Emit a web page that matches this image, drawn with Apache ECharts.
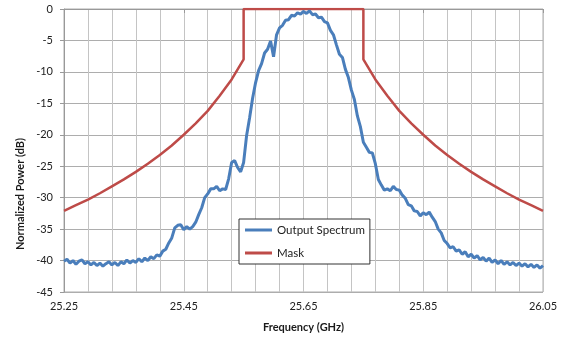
<!DOCTYPE html>
<html>
<head>
<meta charset="utf-8">
<script src="https://cdn.jsdelivr.net/npm/echarts@6/dist/echarts.min.js"></script>
<style>
  html, body { margin: 0; padding: 0; background: #fff; }
  #chart { width: 565px; height: 339px; }
</style>
</head>
<body>
<div id="chart"></div>
<script>
// Frequency span of the plot (GHz)
const freqMin = 25.25;
const freqMax = 26.05;
const gridStep = 0.04;   // vertical gridlines
const labelStep = 0.2;   // labelled frequencies

// Measured output spectrum, sampled every 5 MHz from 25.250 GHz (dB)
const specStep = 0.005;
const specPower = [
  -40.1, -39.8, -40.4, -40.0, -40.6, -40.1, -39.9, -40.5, -40.2, -40.7,
  -40.3, -40.8, -40.4, -40.9, -40.5, -40.2, -40.7, -40.3, -40.8, -40.2,
  -40.5, -39.9, -40.4, -40.0, -40.3, -39.7, -40.2, -39.6, -40.0, -39.4,
  -39.7, -39.1, -39.3, -38.5, -38.2, -37.2, -36.4, -34.8, -34.4, -34.3,
  -35.1, -34.6, -35.0, -34.6, -33.9, -32.7, -31.6, -30.0, -29.4, -28.6,
  -28.6, -28.2, -28.9, -28.6, -28.7, -27.0, -24.4, -24.1, -25.2, -25.9,
  -24.4, -20.1, -17.3, -14.2, -11.7, -9.8, -8.7, -7.0, -6.4, -5.1,
  -7.6, -4.1, -3.0, -2.6, -1.8, -1.7, -1.0, -1.1, -0.6, -0.8,
  -0.4, -0.7, -0.3, -0.9, -0.8, -1.4, -1.3, -2.0, -2.2, -3.4,
  -4.1, -5.7, -7.2, -7.7, -9.6, -10.9, -12.9, -14.4, -17.0, -18.7,
  -21.2, -22.0, -22.8, -22.9, -24.6, -27.1, -28.0, -28.8, -28.6, -28.9,
  -28.2, -28.7, -28.8, -29.6, -30.1, -31.1, -31.3, -32.1, -32.2, -32.9,
  -32.4, -32.7, -32.3, -33.1, -33.8, -35.0, -35.6, -36.8, -37.3, -38.0,
  -37.8, -38.5, -38.3, -39.0, -38.6, -39.4, -39.0, -39.6, -39.2, -39.9,
  -39.5, -40.1, -39.6, -40.3, -39.9, -40.5, -40.0, -40.6, -40.2, -40.7,
  -40.3, -40.8, -40.4, -40.9, -40.5, -41.0, -40.6, -41.1, -40.7, -41.2,
  -40.8
];

// Spectral mask corner points
const maskFreq = [
  25.25, 25.27, 25.29, 25.31, 25.33, 25.35, 25.37, 25.39, 25.41, 25.43,
  25.45, 25.47, 25.49, 25.51, 25.53, 25.55, 25.55, 25.75, 25.75, 25.77,
  25.79, 25.81, 25.83, 25.85, 25.87, 25.89, 25.91, 25.93, 25.95, 25.97,
  25.99, 26.01, 26.03, 26.05
];
const maskPower = [
  -32.1, -31.2, -30.3, -29.3, -28.2, -27.1, -25.9, -24.6, -23.2, -21.7,
  -20.0, -18.2, -16.2, -13.8, -11.2, -8.0, 0, 0, -8.0, -11.2,
  -13.8, -16.2, -18.2, -20.0, -21.7, -23.2, -24.6, -25.9, -27.1, -28.2,
  -29.3, -30.3, -31.2, -32.1
];

const seriesNames = ['Output Spectrum', 'Mask'];
const yTicks = { min: -45, max: 0, step: 5 };

// x positions are plotted as offsets from freqMin so ticks start at 0
const toOffset = f => +(f - freqMin).toFixed(4);
const specData = specPower.map((v, i) => [toOffset(freqMin + i * specStep), v]);
const maskData = maskFreq.map((f, i) => [toOffset(f), maskPower[i]]);

const font = 'Lato, "Liberation Sans", sans-serif';
const gridGray = '#adadad';

const chart = echarts.init(document.getElementById('chart'), null, { renderer: 'canvas' });
chart.setOption({
  animation: false,
  backgroundColor: '#fff',
  textStyle: { fontFamily: font },
  grid: {
    left: 64, right: 22, top: 9, bottom: 47,
    show: true, borderColor: gridGray, borderWidth: 1
  },
  xAxis: [
    {
      type: 'value',
      min: 0, max: toOffset(freqMax), interval: labelStep,
      name: 'Frequency (GHz)', nameLocation: 'middle', nameGap: 30,
      nameTextStyle: { fontFamily: font, fontSize: 11, fontWeight: 'bold', color: '#1a1a1a' },
      axisLine: { show: true, lineStyle: { color: '#999', width: 1 } },
      axisTick: { show: true, length: 4, lineStyle: { color: '#999' } },
      axisLabel: {
        margin: 9, fontFamily: font, fontSize: 11, color: '#222',
        formatter: v => (freqMin + v).toFixed(2)
      },
      splitLine: { show: false }
    },
    {
      type: 'value',
      min: 0, max: toOffset(freqMax), interval: gridStep,
      position: 'bottom',
      axisLine: { show: false },
      axisTick: { show: false },
      axisLabel: { show: false },
      splitLine: { show: true, lineStyle: { color: '#c4c4c4', width: 1 } }
    }
  ],
  yAxis: {
    type: 'value',
    min: yTicks.min, max: yTicks.max, interval: yTicks.step,
    axisLine: { show: true, lineStyle: { color: '#999', width: 1 } },
    axisTick: { show: true, length: 4, lineStyle: { color: '#999' } },
    axisLabel: { margin: 11, fontFamily: font, fontSize: 11, color: '#222' },
    splitLine: { show: true, lineStyle: { color: gridGray, width: 1 } }
  },
  legend: {
    orient: 'vertical',
    left: 239, top: 219,
    padding: [5, 5, 5, 6],
    itemGap: 11,
    itemWidth: 27, itemHeight: 3,
    icon: 'rect',
    backgroundColor: '#fff',
    borderColor: '#333', borderWidth: 1,
    textStyle: { fontFamily: font, fontSize: 11.5, color: '#1a1a1a' },
    data: seriesNames
  },
  graphic: [{
    type: 'text',
    x: 20, y: 194,
    rotation: Math.PI / 2,
    style: {
      text: 'Normalized Power (dB)',
      font: 'bold 11px ' + font,
      fill: '#1a1a1a',
      align: 'center',
      verticalAlign: 'middle'
    }
  }],
  series: [
    {
      name: seriesNames[0], type: 'line', xAxisIndex: 0,
      data: specData, showSymbol: false, symbol: 'none',
      lineStyle: { color: '#4a7ebb', width: 3 },
      itemStyle: { color: '#4a7ebb' },
      z: 3
    },
    {
      name: seriesNames[1], type: 'line', xAxisIndex: 0,
      data: maskData, showSymbol: false, symbol: 'none',
      lineStyle: { color: '#be4b48', width: 2.5 },
      itemStyle: { color: '#be4b48' },
      z: 2
    }
  ]
});
</script>
</body>
</html>
